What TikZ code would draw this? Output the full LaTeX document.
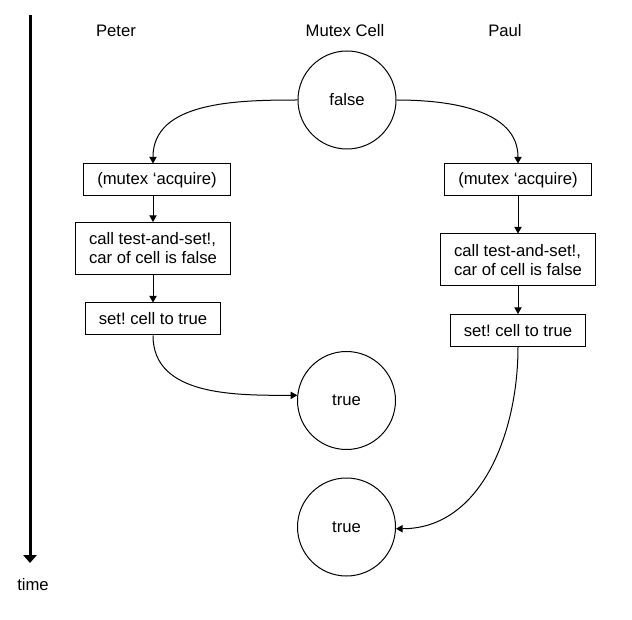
\documentclass[tikz,border=0pt]{standalone}
\usepackage{fontspec}
\setmainfont{Liberation Sans}
\usetikzlibrary{arrows.meta}
\frenchspacing

\begin{document}
\begin{tikzpicture}[x=0.75pt, y=-0.75pt, font=\fontsize{12.5}{14.3}\selectfont, cell node/.style={circle,draw,line width=0.75pt,minimum size=73.5pt,inner sep=0pt}, action node/.style={rectangle,draw,line width=0.75pt,inner xsep=10pt,minimum height=24pt,align=left}, head node/.style={inner sep=0pt}]

\useasboundingbox (0,0) rectangle (632,620);

% time axis
\coordinate (t0) at (30,15);
\coordinate (t1) at (30,563);
\node[head node] (time) at (33,585) {time};

\node[head node] (h0) at (116,31) {Peter};
\node[head node] (h1) at (345,31) {Mutex Cell};
\node[head node] (h2) at (505,31) {Paul};

\node[cell node] (c0) at (347,100) {false};
\node[cell node] (c1) at (346.5,400.5) {true};
\node[cell node] (c2) at (346.5,527) {true};

\node[action node] (p0) at (157,180) {(mutex ‘acquire)};
\node[action node, minimum height=39pt] (p1) at (153,248.5) {call test-and-set!,\\car of cell is false};
\node[action node] (p2) at (153,319) {set! cell to true};

\node[action node] (q0) at (518,180) {(mutex ‘acquire)};
\node[action node, minimum height=39pt] (q1) at (518,260) {call test-and-set!,\\car of cell is false};
\node[action node] (q2) at (518,330.5) {set! cell to true};


\path[](t0) [-{Triangle[length=6pt,width=10pt]}, line width=2.25pt] edge node [] {} (t1);

\path[](c0.west) [-{Triangle[length=5pt,width=5.5pt]}, line width=0.75pt] edge [out=180, in=90] node [] {} (p0.north -| p1.north);
\path[](c0.east) [-{Triangle[length=5pt,width=5.5pt]}, line width=0.75pt] edge [out=0, in=90] node [] {} (q0.north);

\path[](p0.south -| p1.north) [-{Triangle[length=5pt,width=5.5pt]}, line width=0.75pt] edge node [] {} (p1.north);
\path[](p1) [-{Triangle[length=5pt,width=5.5pt]}, line width=0.75pt] edge node [] {} (p2);
\path[](q0) [-{Triangle[length=5pt,width=5.5pt]}, line width=0.75pt] edge node [] {} (q1);
\path[](q1) [-{Triangle[length=5pt,width=5.5pt]}, line width=0.75pt] edge node [] {} (q2);

\path[](p2.south) [-{Triangle[length=5pt,width=5.5pt]}, line width=0.75pt] edge [out=-90, in=180] node [] {} (c1.174);
\path[](q2.south) [-{Triangle[length=5pt,width=5.5pt]}, line width=0.75pt] edge [out=-90, in=0] node [] {} (c2.-2);
\end{tikzpicture}
\end{document}
